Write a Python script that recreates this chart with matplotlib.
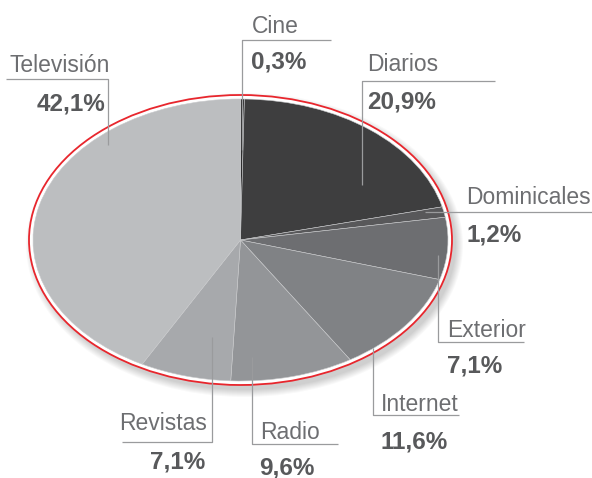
import matplotlib
matplotlib.use("Agg")
import matplotlib.pyplot as plt
from matplotlib.patches import Ellipse

# data
categorias = ["Cine", "Diarios", "Dominicales", "Exterior", "Internet", "Radio", "Revistas", "Televisión"]
valores = [0.3, 20.9, 1.2, 7.1, 11.6, 9.6, 7.1, 42.1]
colores = ["#2e2e2f", "#3e3e3f", "#58585a", "#6d6e71", "#808285", "#939598", "#a7a9ac", "#bcbec0"]

# layout in pixels: (label x, label baseline, label ha, pct x, pct baseline, pct ha, line xs, line ys)
layout = [
    (252, 33, "left", 251, 68, "left", [242, 242, 331], [150, 40, 40]),
    (367, 71, "left", 367, 108, "left", [362, 362, 495], [185, 81, 81]),
    (466, 204, "left", 466, 241, "left", [425, 592], [212, 212]),
    (447, 337, "left", 447, 373, "left", [438, 438, 524], [255, 342, 342]),
    (381, 411, "left", 381, 448, "left", [373, 373, 459], [348, 415, 415]),
    (260, 439, "left", 259, 474, "left", [252, 252, 338], [357, 444, 444]),
    (207, 430, "right", 205, 468, "right", [212, 212, 122], [337, 442, 442]),
    (10, 72, "left", 105, 110, "right", [6, 108, 108], [79, 79, 145]),
]

W, H = 592, 478
fig = plt.figure(figsize=(W / 100, H / 100), dpi=100)
fig.patch.set_facecolor("white")

# background axes in pixel coords: shadow + red ring
bg = fig.add_axes([0, 0, 1, 1], zorder=0)
bg.set_xlim(0, W)
bg.set_ylim(H, 0)
bg.axis("off")
cx, cy = 240.5, 240
for i in range(8):
    bg.add_patch(Ellipse((cx + 4, cy + 5), 2 * 211.5 + i * 2, 2 * 145 + i * 2,
                         facecolor="black", edgecolor="none", alpha=0.025))
bg.add_patch(Ellipse((cx, cy), 2 * 211.5, 2 * 145, facecolor="white",
                     edgecolor="#e8262d", linewidth=1.3))

# pie axes stretched into the ellipse
rx, ry = 207.5, 141
pie_ax = fig.add_axes([(cx - rx) / W, 1 - (cy + ry) / H, 2 * rx / W, 2 * ry / H], zorder=1)
pie_ax.pie(valores, colors=colores, startangle=90, counterclock=False, radius=1,
           wedgeprops=dict(edgecolor="#c8c9cb", linewidth=0.4))
pie_ax.set_aspect("auto")
pie_ax.set_xlim(-1, 1)
pie_ax.set_ylim(-1, 1)
pie_ax.axis("off")

# overlay for leader lines and labels
ov = fig.add_axes([0, 0, 1, 1], zorder=2)
ov.set_xlim(0, W)
ov.set_ylim(H, 0)
ov.axis("off")
ov.patch.set_alpha(0)

for cat, val, lay in zip(categorias, valores, layout):
    lx, ly, lha, px, py, pha, xs, ys = lay
    ov.plot(xs, ys, color="#9a9b9d", linewidth=0.9, solid_capstyle="butt")
    ov.text(lx, ly, cat, ha=lha, va="baseline", fontsize=16.5,
            family="Liberation Sans", color="#6d6e71")
    pct = f"{val:.1f}".replace(".", ",") + "%"
    ov.text(px, py, pct, ha=pha, va="baseline", fontsize=17.5, fontweight="bold",
            family="Liberation Sans", color="#58595b")

fig.savefig("out.png", dpi=100)
